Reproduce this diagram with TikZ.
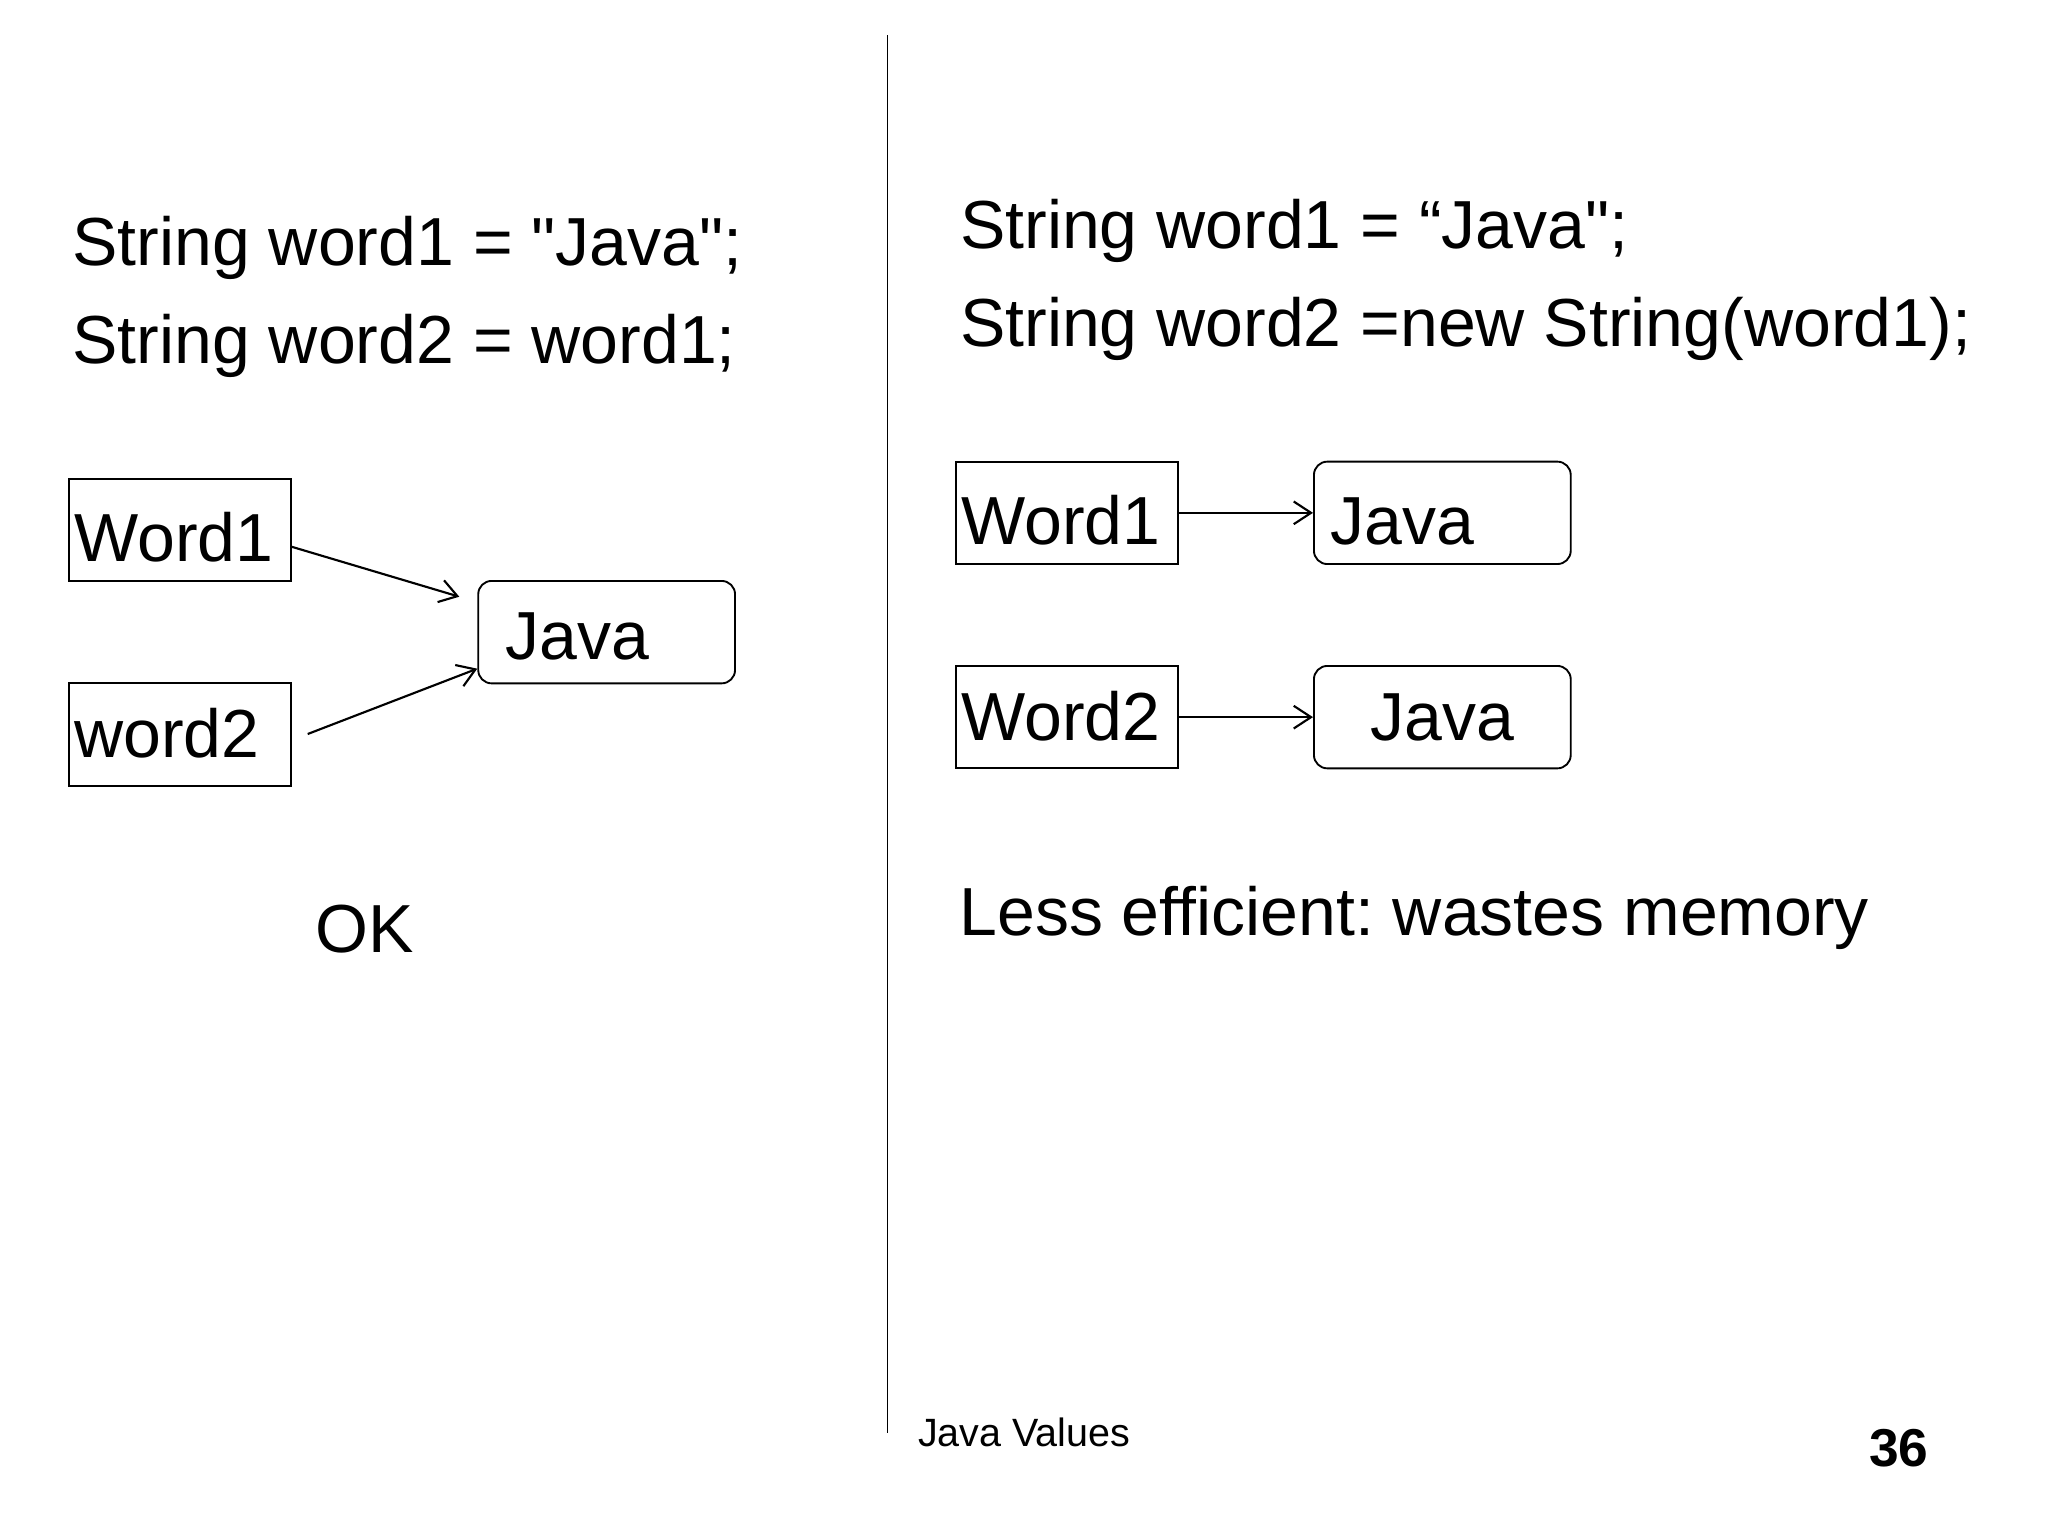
\documentclass[tikz,border=0pt]{standalone}
\usepackage{fontspec}
\setmainfont{Liberation Sans}[Ligatures=TeXOff]
\usetikzlibrary{arrows.meta,calc}
\frenchspacing
\begin{document}
\begin{tikzpicture}[x=0.375pt,y=-0.375pt,
  big/.style={font=\fontsize{25.5pt}{30pt}\selectfont},
  txt/.style={big, inner sep=0pt, anchor=base west},
  wordbox/.style={big, draw, line width=0.7pt, rectangle, anchor=north west,
    inner ysep=0pt, inner xsep=2.1pt, text width=79.2pt, align=left},
  valbox/.style={big, draw, line width=0.7pt, rectangle, rounded corners=5pt,
    anchor=north west, inner ysep=0pt},
  wtop/.style={text height=30.9pt, text depth=7.5pt},
  wlow/.style={text height=27.9pt, text depth=10.5pt},
  ptr/.style={line width=0.8pt, -{Straight Barb[length=6.5pt,width=8.5pt]}}
]
\path[use as bounding box, fill=white] (0,0) rectangle (2048,1536);

% divider
\coordinate (dtop) at (887.3,35);
\coordinate (dbot) at (887.3,1432.7);
\draw[line width=0.5pt] (dtop) -- (dbot);

% left column
\node[txt] (l1) at (72,265) {String word1 = "Java";};
\node[txt] (l2) at (72,363.3) {String word2 = word1;};

\node[wordbox, wtop] (w1) at (67.7,477.7) {Word1};
\node[wordbox, wlow] (w2) at (67.7,682.3) {word2};
\node[valbox, inner xsep=10.4pt, text width=75.5pt, align=left,
      text height=29.4pt, text depth=9pt] (j1) at (477.3,580) {Java};

\coordinate (t1) at (459.3,596.7);
\coordinate (s2) at (307.7,734);
\draw[ptr] ($(w1.east)+(0,17)$) -- (t1);
\draw[ptr] (s2) -- ($(j1.south west)+(0,-15.6)$);

\node[txt] (ok) at (315,952) {OK};

% right column
\node[txt] (r1) at (959.6,248.3) {String word1 = “Java";};
\node[txt] (r2) at (959.6,346.7) {String word2 =new String(word1);};

\node[wordbox, wtop] (rw1) at (955,460.7) {Word1};
\node[valbox, wtop, inner xsep=6.3pt, text width=83.7pt, align=left] (rj1) at (1313,460.7) {Java};
\node[wordbox, wlow] (rw2) at (955,665) {Word2};
\node[valbox, wlow, inner xsep=0pt, text width=96.3pt, align=center] (rj2) at (1313,665) {Java};

\draw[ptr] (rw1.east) -- (rj1.west);
\draw[ptr] (rw2.east) -- (rj2.west);

\node[txt] (less) at (959,935.7) {Less efficient: wastes memory};

% footer
\node[inner sep=0pt, anchor=base west, font=\fontsize{14.8pt}{17pt}\selectfont] (foot) at (917.5,1446.7) {Java Values};
\node[inner sep=0pt, anchor=base west, font=\fontsize{20pt}{24pt}\selectfont\bfseries] (pg) at (1868.7,1466) {36};
\end{tikzpicture}
\end{document}
